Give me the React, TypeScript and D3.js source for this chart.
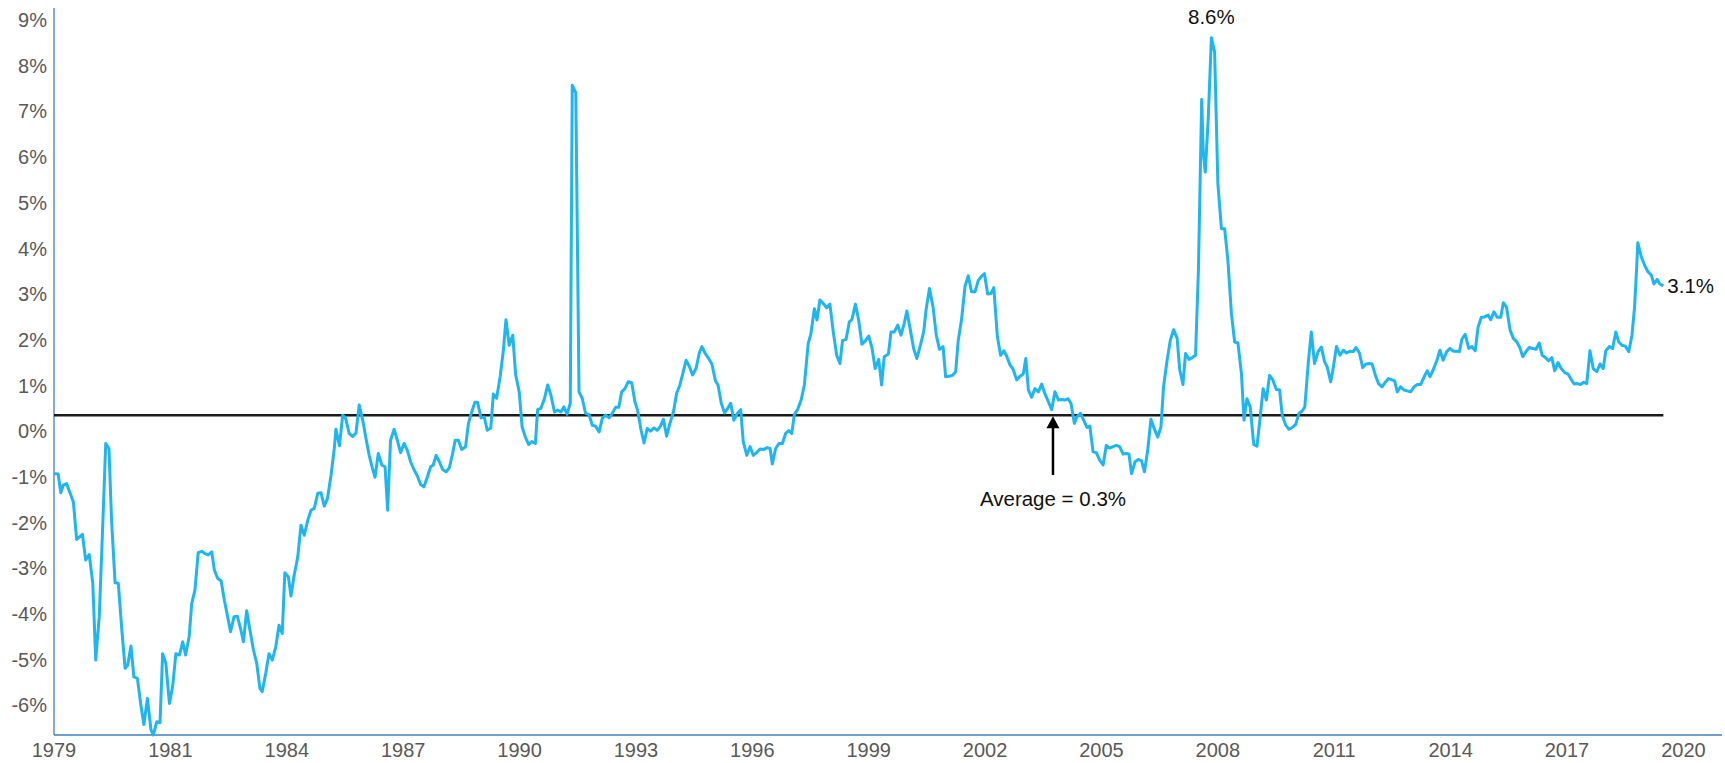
import React, { useRef, useEffect } from 'react'
import * as d3 from 'd3'

// month offset from the first observation (Jan 1979 = 0)
const months = [
  0, 1.3, 2.1, 2.9, 3.9, 5.0, 6.0, 7.0, 8.8, 9.8, 10.9, 12.0, 12.9, 14.0, 15.1, 16.0, 17.0, 17.8, 18.9, 19.9,
  20.9, 22.0, 22.8, 23.8, 24.7, 25.8, 26.8, 27.8, 28.9, 30.0, 30.7, 31.8, 32.8, 33.6, 34.6, 35.7, 36.7, 37.7, 38.8, 39.8,
  40.7, 41.8, 42.6, 43.6, 44.6, 45.7, 46.7, 47.7, 48.8, 49.6, 50.6, 51.7, 52.7, 53.7, 54.6, 55.7, 56.7, 57.7, 58.6, 59.6,
  60.6, 61.7, 62.7, 63.7, 64.4, 65.5, 66.5, 67.5, 68.6, 69.6, 70.6, 71.4, 72.5, 73.3, 74.3, 75.4, 76.4, 77.4, 78.5, 79.5,
  80.5, 81.6, 82.6, 83.6, 84.6, 85.7, 86.7, 87.2, 88.3, 89.3, 90.2, 91.3, 92.4, 93.4, 94.4, 95.5, 96.5, 97.5, 98.6, 99.3,
  100.3, 101.4, 102.4, 103.2, 104.1, 105.2, 106.2, 107.2, 108.3, 109.3, 110.3, 111.4, 112.4, 113.4, 114.4, 115.5, 116.5, 117.3, 118.2, 119.2,
  120.2, 121.3, 122.3, 123.3, 124.1, 125.1, 126.1, 127.3, 128.2, 129.2, 130.2, 131.0, 132.1, 133.1, 134.0, 135.1, 135.9, 136.9, 138.0, 139.0,
  139.8, 140.8, 141.9, 142.8, 143.9, 144.8, 145.8, 146.8, 147.8, 148.9, 149.6, 150.6, 151.7, 152.7, 153.7, 154.8, 155.8, 156.8, 157.7, 158.7,
  159.7, 160.3, 161.4, 162.4, 163.4, 164.4, 165.5, 166.5, 167.5, 168.6, 169.6, 170.6, 171.7, 172.7, 173.7, 174.7, 175.6, 176.6, 177.6, 178.7,
  179.7, 180.5, 181.6, 182.5, 183.5, 184.5, 185.6, 186.6, 187.6, 188.5, 189.5, 190.5, 191.6, 192.6, 193.6, 194.4, 195.5, 196.5, 197.5, 198.6,
  199.6, 200.4, 201.5, 202.5, 203.5, 204.6, 205.4, 206.4, 207.4, 208.5, 209.3, 210.3, 211.4, 212.4, 213.2, 214.3, 215.3, 216.3, 217.3, 218.4,
  219.6, 220.6, 221.5, 222.2, 223.2, 224.3, 225.3, 226.3, 227.3, 228.2, 229.0, 230.0, 231.1, 232.1, 232.8, 233.3, 234.1, 235.2, 236.0, 236.9,
  238.0, 239.0, 240.0, 241.1, 242.1, 243.1, 243.9, 245.0, 246.0, 246.8, 247.9, 248.9, 249.9, 251.0, 252.0, 253.0, 254.0, 255.1, 256.0, 256.8,
  258.1, 258.9, 259.9, 261.0, 262.0, 263.0, 263.8, 264.9, 265.9, 266.9, 268.0, 269.0, 269.8, 270.8, 271.9, 272.9, 273.9, 275.0, 275.8, 276.8,
  277.9, 278.9, 279.7, 280.7, 281.8, 282.8, 283.8, 284.9, 285.9, 286.9, 287.8, 288.8, 289.8, 290.7, 291.8, 292.8, 293.8, 294.7, 295.7, 296.7,
  297.8, 298.8, 299.8, 300.6, 301.4, 302.4, 303.4, 304.5, 305.5, 306.5, 307.6, 308.6, 309.6, 310.7, 311.7, 312.7, 313.7, 314.6, 315.6, 316.4,
  317.5, 318.5, 319.5, 320.4, 321.4, 322.4, 323.4, 324.5, 325.5, 326.5, 327.6, 328.6, 329.6, 330.7, 331.7, 332.5, 333.3, 334.4, 335.4, 336.4,
  337.3, 338.3, 339.3, 340.3, 341.4, 342.4, 343.2, 344.3, 345.3, 346.3, 347.4, 348.2, 349.2, 350.0, 351.1, 352.1, 353.1, 354.0, 355.0, 355.5,
  356.1, 357.0, 358.0, 359.0, 360.0, 361.1, 362.1, 363.1, 364.2, 365.2, 366.2, 367.3, 368.1, 369.0, 370.0, 371.1, 372.1, 373.1, 374.0, 375.0,
  376.0, 377.0, 378.1, 379.1, 379.9, 381.0, 382.0, 383.0, 384.1, 385.1, 386.1, 386.9, 388.0, 388.9, 389.9, 391.0, 392.0, 393.0, 393.8, 394.9,
  395.5, 396.7, 397.8, 398.8, 399.8, 400.9, 401.9, 402.7, 403.8, 404.8, 405.8, 406.9, 407.7, 408.7, 409.7, 410.8, 411.8, 412.8, 413.9, 414.7,
  415.5, 416.5, 417.6, 418.6, 419.6, 420.7, 421.7, 422.7, 423.8, 424.8, 425.6, 426.6, 427.7, 428.7, 429.7, 430.8, 431.8, 432.8, 433.9, 434.7,
  435.5, 436.5, 437.6, 438.6, 439.6, 440.5, 441.5, 442.5, 443.6, 444.4, 445.4, 446.4, 447.5, 448.3, 449.3, 450.4, 451.4, 452.4, 453.4, 454.3,
  455.3, 456.3, 457.4, 458.4, 459.4, 460.3, 461.3, 462.3, 463.3, 464.2, 465.2, 466.2, 467.3, 468.3, 469.3, 470.2, 471.2, 472.2, 473.2, 474.1,
  475.1, 476.1, 477.2, 478.2, 479.2, 480.0, 481.1, 482.1, 483.1, 484.0, 485.0, 486.0, 487.1, 488.1, 488.9, 489.5, 489.9, 491.0, 492.0, 493.0,
  494.1, 494.9, 495.9, 496.7, 497.8,
]

// real rate, %
const values = [
  -0.93, -0.94, -1.35, -1.18, -1.15, -1.36, -1.55, -2.37, -2.26, -2.82, -2.70, -3.33, -5.01, -4.06, -2.02, -0.27, -0.38, -1.95, -3.32, -3.33,
  -4.28, -5.19, -5.12, -4.70, -5.38, -5.41, -5.96, -6.42, -5.85, -6.54, -6.65, -6.36, -6.38, -4.87, -5.08, -5.96, -5.59, -4.87, -4.90, -4.61,
  -4.90, -4.50, -3.77, -3.48, -2.66, -2.63, -2.68, -2.71, -2.64, -3.04, -3.22, -3.28, -3.70, -4.06, -4.39, -4.06, -4.05, -4.32, -4.61, -3.93,
  -4.35, -4.79, -5.08, -5.63, -5.70, -5.30, -4.87, -5.01, -4.72, -4.25, -4.43, -3.10, -3.19, -3.61, -3.15, -2.75, -2.06, -2.28, -1.95, -1.73,
  -1.69, -1.36, -1.35, -1.64, -1.47, -0.96, -0.38, 0.04, -0.32, 0.35, 0.28, -0.05, -0.12, -0.04, 0.57, 0.24, -0.16, -0.53, -0.84, -1.01,
  -0.49, -0.74, -0.78, -1.73, -0.20, 0.04, -0.20, -0.47, -0.27, -0.42, -0.67, -0.85, -0.98, -1.17, -1.22, -1.00, -0.78, -0.74, -0.53, -0.67,
  -0.84, -0.89, -0.80, -0.49, -0.20, -0.20, -0.40, -0.34, 0.17, 0.42, 0.63, 0.63, 0.29, 0.31, 0.02, 0.07, 0.81, 0.72, 1.19, 1.77,
  2.44, 1.88, 2.10, 1.23, 0.86, 0.09, -0.13, -0.29, -0.23, -0.27, 0.47, 0.50, 0.71, 1.01, 0.79, 0.42, 0.46, 0.42, 0.53, 0.37,
  0.61, 7.57, 7.40, 0.86, 0.72, 0.39, 0.36, 0.13, 0.11, -0.02, 0.28, 0.35, 0.29, 0.39, 0.52, 0.52, 0.86, 0.93, 1.08, 1.06,
  0.64, 0.46, 0.02, -0.26, 0.06, 0.00, 0.07, 0.02, 0.11, 0.26, -0.11, 0.17, 0.42, 0.83, 1.01, 1.23, 1.55, 1.42, 1.23, 1.37,
  1.71, 1.85, 1.69, 1.59, 1.47, 1.10, 1.01, 0.61, 0.40, 0.51, 0.61, 0.24, 0.39, 0.47, -0.23, -0.53, -0.34, -0.53, -0.47, -0.39,
  -0.40, -0.36, -0.38, -0.72, -0.38, -0.27, -0.27, -0.05, 0.01, -0.05, 0.36, 0.47, 0.68, 1.01, 1.55, 1.92, 2.12, 2.68, 2.43, 2.87,
  2.79, 2.70, 2.78, 2.14, 1.66, 1.48, 1.98, 2.01, 2.39, 2.44, 2.78, 2.43, 1.90, 1.98, 2.08, 1.83, 1.37, 1.57, 1.01, 1.63,
  1.69, 2.17, 2.17, 2.32, 2.10, 2.36, 2.63, 2.21, 1.81, 1.59, 1.88, 2.17, 2.68, 3.12, 2.72, 2.10, 1.79, 1.85, 1.19, 1.20,
  1.22, 1.30, 1.99, 2.43, 3.17, 3.40, 3.05, 3.05, 3.30, 3.39, 3.45, 3.00, 3.01, 3.14, 2.07, 1.66, 1.76, 1.64, 1.45, 1.35,
  1.12, 1.20, 1.25, 1.59, 0.90, 0.74, 0.93, 0.86, 1.03, 0.82, 0.64, 0.47, 0.86, 0.68, 0.69, 0.68, 0.71, 0.60, 0.17, 0.31,
  0.39, 0.24, 0.08, 0.11, -0.45, -0.47, -0.63, -0.74, -0.31, -0.37, -0.34, -0.31, -0.34, -0.50, -0.49, -0.50, -0.93, -0.67, -0.62, -0.65,
  -0.89, -0.42, 0.26, 0.06, -0.13, 0.09, 0.97, 1.55, 1.99, 2.22, 2.03, 1.35, 1.02, 1.70, 1.57, 1.61, 1.66, 3.56, 7.26, 6.08,
  5.67, 6.80, 8.61, 8.30, 5.42, 4.43, 4.43, 3.74, 2.57, 1.95, 1.93, 1.26, 0.24, 0.71, 0.53, -0.29, -0.33, 0.31, 0.93, 0.68,
  1.22, 1.12, 0.91, 0.90, 0.35, 0.13, 0.04, 0.08, 0.15, 0.39, 0.44, 0.53, 1.52, 2.17, 1.48, 1.74, 1.84, 1.52, 1.41, 1.08,
  1.30, 1.85, 1.66, 1.77, 1.71, 1.75, 1.74, 1.83, 1.71, 1.39, 1.47, 1.48, 1.47, 1.23, 1.04, 0.97, 1.07, 1.15, 1.12, 1.10,
  0.86, 0.97, 0.90, 0.88, 0.86, 0.97, 1.02, 1.02, 1.19, 1.32, 1.19, 1.34, 1.54, 1.77, 1.55, 1.74, 1.81, 1.75, 1.75, 1.74,
  2.01, 2.12, 1.81, 1.85, 1.76, 2.28, 2.49, 2.50, 2.54, 2.44, 2.61, 2.49, 2.49, 2.81, 2.71, 2.21, 2.03, 1.96, 1.83, 1.63,
  1.74, 1.83, 1.81, 1.79, 1.93, 1.66, 1.61, 1.54, 1.61, 1.32, 1.50, 1.37, 1.28, 1.25, 1.13, 1.03, 1.04, 1.02, 1.07, 1.04,
  1.76, 1.37, 1.30, 1.47, 1.37, 1.76, 1.85, 1.81, 2.17, 1.95, 1.88, 1.86, 1.74, 2.10, 2.72, 3.52, 4.12, 3.81, 3.63, 3.49,
  3.41, 3.22, 3.32, 3.22, 3.18,
]

const tickMonths = [0, 36, 72, 108, 144, 180, 216, 252, 288, 324, 360, 396, 432, 468, 504]
const tickLabels = ['1979', '1981', '1984', '1987', '1990', '1993', '1996', '1999', '2002', '2005', '2008', '2011', '2014', '2017', '2020']
const yTicks = [-6, -5, -4, -3, -2, -1, 0, 1, 2, 3, 4, 5, 6, 7, 8, 9]

const average = 0.35
const averageText = 'Average = 0.3%'
const arrowMonth = 309
const peakText = '8.6%'
const lastText = '3.1%'

const FONT = '"Liberation Sans", Arial, sans-serif'

export default function App() {
  const svgRef = useRef<SVGSVGElement>(null)

  useEffect(() => {
    document.body.style.margin = '0'
    if (!svgRef.current) return
    const svg = d3.select(svgRef.current)
    svg.selectAll('*').remove()

    const x = d3.scaleLinear().domain([0, 504]).range([54, 1683.4])
    const y = d3.scaleLinear().domain([-6.65, 9.26]).range([735, 8])

    const data = months.map((m, i) => ({ m, v: values[i] }))
    const last = data[data.length - 1]
    const peak = data.reduce((a, b) => (b.v > a.v ? b : a))

    // axes lines
    svg.append('line')
      .attr('x1', 54).attr('x2', 54).attr('y1', 8).attr('y2', 735)
      .attr('stroke', '#3f7fbf').attr('stroke-width', 1.3)
    svg.append('line')
      .attr('x1', 54).attr('x2', 1722).attr('y1', 735).attr('y2', 735)
      .attr('stroke', '#3f7fbf').attr('stroke-width', 1.3)

    // y labels
    svg.append('g').selectAll('text')
      .data(yTicks)
      .join('text')
      .attr('x', 47)
      .attr('y', d => y(d))
      .attr('dy', '0.36em')
      .attr('text-anchor', 'end')
      .attr('font-family', FONT)
      .attr('font-size', 20)
      .attr('fill', '#595959')
      .text(d => `${d}%`)

    // x labels
    svg.append('g').selectAll('text')
      .data(tickMonths)
      .join('text')
      .attr('x', d => x(d))
      .attr('y', 757)
      .attr('text-anchor', 'middle')
      .attr('font-family', FONT)
      .attr('font-size', 20)
      .attr('fill', '#595959')
      .text((_, i) => tickLabels[i])

    // average line
    svg.append('line')
      .attr('x1', x(0)).attr('x2', x(last.m))
      .attr('y1', y(average)).attr('y2', y(average))
      .attr('stroke', '#1a1a1a').attr('stroke-width', 2.5)

    // series
    const line = d3.line<{ m: number; v: number }>()
      .x(d => x(d.m))
      .y(d => y(d.v))
    svg.append('path')
      .datum(data)
      .attr('d', line)
      .attr('fill', 'none')
      .attr('stroke', '#1fb5ee')
      .attr('stroke-width', 3)
      .attr('stroke-linejoin', 'round')

    // arrow to the average
    const ax = x(arrowMonth)
    const tip = y(average) + 1
    svg.append('line')
      .attr('x1', ax).attr('x2', ax).attr('y1', tip + 10).attr('y2', 475)
      .attr('stroke', '#000').attr('stroke-width', 2.5)
    svg.append('path')
      .attr('d', `M${ax},${tip} L${ax - 6.5},${tip + 12} L${ax + 6.5},${tip + 12} Z`)
      .attr('fill', '#000')

    const note = (tx: number, ty: number, t: string, anchor: string) =>
      svg.append('text')
        .attr('x', tx).attr('y', ty)
        .attr('text-anchor', anchor)
        .attr('font-family', FONT)
        .attr('font-size', 20.5)
        .attr('fill', '#111')
        .text(t)

    note(ax, 506, averageText, 'middle')
    note(x(peak.m), 24, peakText, 'middle')
    note(x(last.m) + 4, y(last.v) + 7, lastText, 'start')
  }, [])

  return <svg ref={svgRef} width={1725} height={763} style={{ display: 'block', background: '#fff' }} />
}
